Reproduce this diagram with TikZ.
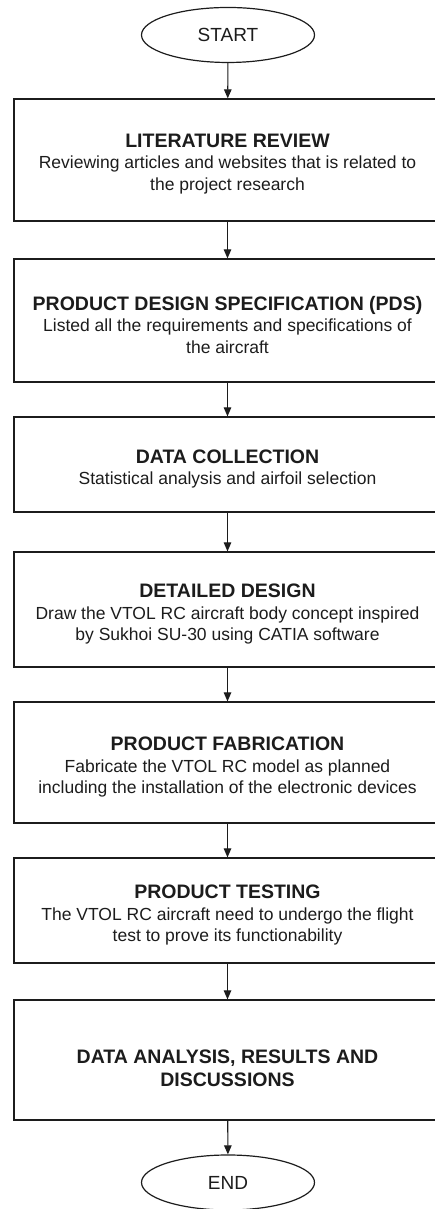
\documentclass[tikz,border=0pt]{standalone}
\usepackage{fontspec}
\setmainfont{Liberation Sans}
\usetikzlibrary{arrows.meta,shapes.geometric}
\definecolor{ink}{HTML}{1C1C1C}
\newcommand\steptitle[2][23pt]{{\rule{0pt}{#1}\fontsize{19.5}{22}\selectfont\bfseries #2}}

\begin{document}
\begin{tikzpicture}[x=1pt,y=1pt,>={Triangle[length=9pt,width=7.5pt]},
  stage/.style={draw=ink,line width=1.2pt,minimum width=427pt,inner sep=0pt,align=center,text=ink,font=\fontsize{17.5}{21.5}\selectfont},
  term/.style={draw=ink,line width=1.2pt,ellipse,minimum width=173pt,minimum height=55pt,inner sep=0pt,text=ink,font=\fontsize{19}{22}\selectfont},
  flow/.style={->,draw=ink,line width=1.1pt}]
\useasboundingbox (0,0) rectangle (435,1209);
\node[term] (start) at (228,1174) {START};
\node[stage,minimum height=122pt] (review) at (227.5,1049) {\steptitle[21pt]{LITERATURE REVIEW}\\Reviewing articles and websites that is related to\\the project research};
\node[stage,minimum height=123pt] (pds) at (227.5,888.5) {\steptitle{PRODUCT DESIGN SPECIFICATION (PDS)}\\Listed all the requirements and specifications of\\the aircraft};
\node[stage,minimum height=95pt] (collect) at (227.5,744.5) {\steptitle{DATA COLLECTION}\\Statistical analysis and airfoil selection};
\node[stage,minimum height=115pt] (design) at (227.5,599.5) {\steptitle{DETAILED DESIGN}\\Draw the VTOL RC aircraft body concept inspired\\by Sukhoi SU-30 using CATIA software};
\node[stage,minimum height=121pt] (fab) at (227.5,446.5) {\steptitle{PRODUCT FABRICATION}\\Fabricate the VTOL RC model as planned\\including the installation of the electronic devices};
\node[stage,minimum height=105pt] (test) at (227.5,298.5) {\steptitle{PRODUCT TESTING}\\The VTOL RC aircraft need to undergo the flight\\test to prove its functionability};
\node[stage,minimum height=120pt] (analysis) at (227.5,149) {\steptitle[31pt]{DATA ANALYSIS, RESULTS AND}\\[1.5pt]\steptitle[0pt]{DISCUSSIONS}};
\node[term] (end) at (228,26.5) {END};
\draw[flow] (start) -- (review);
\draw[flow] (review) -- (pds);
\draw[flow] (pds) -- (collect);
\draw[flow] (collect) -- (design);
\draw[flow] (design) -- (fab);
\draw[flow] (fab) -- (test);
\draw[flow] (test) -- (analysis);
\draw[flow] (analysis) -- (end);
\end{tikzpicture}
\end{document}
